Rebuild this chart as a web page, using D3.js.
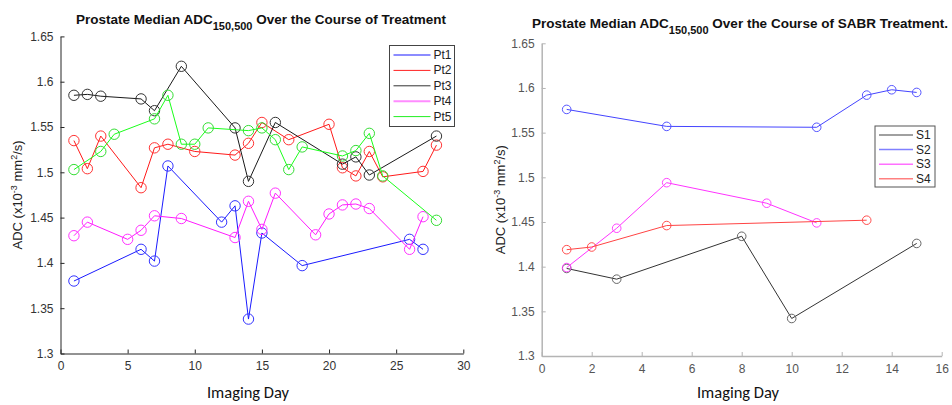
<!DOCTYPE html>
<html><head><meta charset="utf-8">
<script src="https://cdn.jsdelivr.net/npm/d3@7"></script>
<style>
html,body{margin:0;padding:0;background:#fff;}
svg{display:block;font-family:"Liberation Sans",Arial,sans-serif;}
</style></head>
<body>
<svg id="c" width="952" height="405"></svg>
<script>
// ---- Left chart data ----
const leftNames = ["Pt1","Pt2","Pt3","Pt4","Pt5"];
const pt1Days = [1,6,7,8,12,13,14,15,18,26,27];
const pt1Vals = [1.380,1.415,1.402,1.507,1.445,1.463,1.338,1.433,1.397,1.426,1.415];
const pt2Days = [1,2,3,6,7,8,10,13,14,15,17,20,21,22,23,24,27,28];
const pt2Vals = [1.535,1.504,1.540,1.483,1.527,1.531,1.523,1.519,1.532,1.555,1.536,1.553,1.505,1.496,1.523,1.495,1.501,1.530];
const pt3Days = [1,2,3,6,7,9,13,14,16,21,22,23,28];
const pt3Vals = [1.585,1.586,1.584,1.581,1.568,1.617,1.549,1.490,1.555,1.509,1.517,1.497,1.540];
const pt4Days = [1,2,5,6,7,9,13,14,15,16,19,20,21,22,23,26,27];
const pt4Vals = [1.430,1.445,1.426,1.436,1.452,1.449,1.428,1.468,1.437,1.477,1.431,1.454,1.464,1.465,1.460,1.415,1.451];
const pt5Days = [1,3,4,7,8,9,10,11,14,15,16,17,18,21,22,23,24,28];
const pt5Vals = [1.503,1.523,1.542,1.559,1.585,1.531,1.531,1.549,1.546,1.549,1.536,1.503,1.528,1.518,1.524,1.543,1.496,1.447];
const leftXTicks = [0,5,10,15,20,25,30];
const yTicks = [1.3,1.35,1.4,1.45,1.5,1.55,1.6,1.65];

// ---- Right chart data ----
const rightNames = ["S1","S2","S3","S4"];
const s1Days = [1,3,8,10,15];
const s1Vals = [1.398,1.386,1.434,1.342,1.426];
const s2Days = [1,5,11,13,14,15];
const s2Vals = [1.576,1.557,1.556,1.592,1.598,1.595];
const s3Days = [1,3,5,9,11];
const s3Vals = [1.399,1.443,1.494,1.471,1.449];
const s4Days = [1,2,5,13];
const s4Vals = [1.419,1.422,1.446,1.452];
const rightXTicks = [0,2,4,6,8,10,12,14,16];

const svg = d3.select("#c");

function panel(o){
  const x = d3.scaleLinear().domain(o.xDomain).range(o.xRange);
  const y = d3.scaleLinear().domain([1.3,1.65]).range(o.yRange);
  const g = svg.append("g");
  // axes
  const ya = g.append("g").attr("transform",`translate(${o.xRange[0]},0)`)
    .call(d3.axisLeft(y).tickValues(yTicks).tickFormat(d=>d3.format("")(+d.toFixed(2))).tickSizeInner(-4).tickSizeOuter(0).tickPadding(7));
  const xa = g.append("g").attr("transform",`translate(0,${o.yRange[0]})`)
    .call(d3.axisBottom(x).tickValues(o.xTicks).tickFormat(d3.format("d")).tickSizeInner(-4).tickSizeOuter(0).tickPadding(8));
  [ya,xa].forEach(a=>{
    a.select(".domain").attr("stroke",o.axisColor).attr("stroke-width",o.axisWidth);
    a.selectAll(".tick line").attr("stroke",o.axisColor);
    a.selectAll("text").attr("fill",o.textColor).style("font-size","12px").style("font-family","'Liberation Sans',Arial,sans-serif");
  });
  // series
  o.series.forEach(s=>{
    const pts = s.days.map((d,i)=>[d,s.vals[i]]);
    g.append("path").datum(pts)
      .attr("fill","none").attr("stroke",s.line).attr("stroke-width",1)
      .attr("d",d3.line().x(d=>x(d[0])).y(d=>y(d[1])));
    g.selectAll(null).data(pts).enter().append("circle")
      .attr("cx",d=>x(d[0])).attr("cy",d=>y(d[1])).attr("r",o.r)
      .attr("fill","none").attr("stroke",s.marker).attr("stroke-width",1);
  });
  // legend
  const L = o.legend;
  const lg = g.append("g");
  lg.append("rect").attr("x",L.x).attr("y",L.y).attr("width",L.w).attr("height",L.h)
    .attr("fill","#fff").attr("stroke",L.border).attr("stroke-width",1);
  o.series.forEach((s,i)=>{
    const yy = L.y + L.first + i*L.step;
    lg.append("line").attr("x1",L.x+4).attr("x2",L.x+4+L.len).attr("y1",yy).attr("y2",yy)
      .attr("stroke",s.legend).attr("stroke-width",s.legendW||1);
    lg.append("text").attr("x",L.x+L.len+7).attr("y",yy+4).text(s.name)
      .style("font-size","12px").attr("fill","#222");
  });
  // title
  const t = g.append("text").attr("x",o.titleX).attr("y",o.titleY).attr("text-anchor","middle")
    .style("font-size","13.5px").style("font-weight","bold").attr("fill","#111");
  t.append("tspan").text("Prostate Median ADC");
  t.append("tspan").attr("dy",6).style("font-size","11px").text("150,500");
  t.append("tspan").attr("dy",-6).text(o.titleRest);
  // y label
  const yl = g.append("text").attr("transform",`translate(${o.yLabelX},${(o.yRange[0]+o.yRange[1])/2}) rotate(-90)`)
    .attr("text-anchor","middle").style("font-size","13px").attr("fill","#222");
  yl.append("tspan").text("ADC (x10");
  yl.append("tspan").attr("dy",-5).style("font-size","9px").text("-3");
  yl.append("tspan").attr("dy",5).text(" mm");
  yl.append("tspan").attr("dy",-5).style("font-size","9px").text("2");
  yl.append("tspan").attr("dy",5).text("/s)");
  // x label
  g.append("text").attr("x",o.xLabelX).attr("y",398).attr("text-anchor","middle")
    .style("font-size","16.5px").style("font-family","Carlito,Lato,'Open Sans',sans-serif").attr("fill","#111").text("Imaging Day");
}

panel({
  xDomain:[0,30], xRange:[60.5,463.3], yRange:[353.5,36.4], xTicks:leftXTicks,
  axisColor:"#262626", axisWidth:1, textColor:"#333", r:5.2,
  series:[
    {name:leftNames[0],days:pt1Days,vals:pt1Vals,line:"#1a1aff",marker:"#3333ff",legend:"#8c8cff",legendW:2},
    {name:leftNames[1],days:pt2Days,vals:pt2Vals,line:"#ff1a1a",marker:"#ff3333",legend:"#ff2020"},
    {name:leftNames[2],days:pt3Days,vals:pt3Vals,line:"#1a1a1a",marker:"#333",legend:"#333"},
    {name:leftNames[3],days:pt4Days,vals:pt4Vals,line:"#ff1aff",marker:"#ff33ff",legend:"#ff8cff",legendW:2},
    {name:leftNames[4],days:pt5Days,vals:pt5Vals,line:"#1aff1a",marker:"#33dd33",legend:"#22ee22"}
  ],
  legend:{x:389.5,y:45.5,w:65,h:81,first:9.5,step:15.4,len:37,border:"#444"},
  titleX:261, titleY:24, titleRest:" Over the Course of Treatment",
  yLabelX:22, xLabelX:248
});

panel({
  xDomain:[0,16], xRange:[541.7,941.7], yRange:[356,43.3], xTicks:rightXTicks,
  axisColor:"#b4b4b4", axisWidth:1.5, textColor:"#555", r:4.3,
  series:[
    {name:rightNames[0],days:s1Days,vals:s1Vals,line:"#333",marker:"#666",legend:"#808080",legendW:1.5},
    {name:rightNames[1],days:s2Days,vals:s2Vals,line:"#4444ff",marker:"#5555ff",legend:"#8080ff",legendW:1.5},
    {name:rightNames[2],days:s3Days,vals:s3Vals,line:"#ff33ff",marker:"#ff44ff",legend:"#ff70ff",legendW:1.5},
    {name:rightNames[3],days:s4Days,vals:s4Vals,line:"#ff4444",marker:"#ff4d4d",legend:"#ff8080",legendW:1.5}
  ],
  legend:{x:875,y:126,w:60,h:61,first:9,step:14.6,len:34,border:"#555"},
  titleX:740, titleY:28, titleRest:" Over the Course of SABR Treatment.",
  yLabelX:505, xLabelX:738
});
</script>
</body></html>
